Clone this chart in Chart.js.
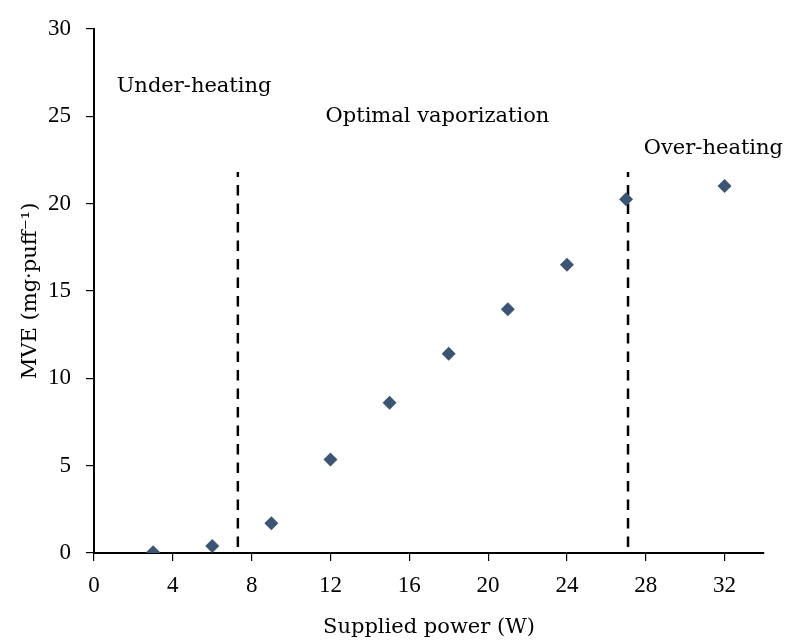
<!DOCTYPE html>
<html>
<head>
<meta charset="utf-8">
<script src="https://cdn.jsdelivr.net/npm/chart.js@4/dist/chart.umd.min.js"></script>
<style>
  body { margin: 0; background: #fff; }
  canvas { display: block; background: #fff; }
</style>
</head>
<body>
<canvas id="mveChart" width="787" height="643"></canvas>
<script>
// supplied power (W) and measured MVE (mg/puff)
const powerW = [3, 6, 9, 12, 15, 18, 21, 24, 27, 32];
const mveValues = [0.05, 0.4, 1.7, 5.35, 8.6, 11.4, 13.95, 16.5, 20.25, 21.0];

// regime boundaries (W) and how high the dashed lines reach
const boundaries = [7.3, 27.1];
const boundaryTop = 21.8;

const regionLabels = ['Under-heating', 'Optimal vaporization', 'Over-heating'];

const textFont = '"DejaVu Serif", serif';
const tickFont = '"Liberation Serif", serif';

/**
 * Writes the regime names inside the plot, anchored in data units.
 */
const regionText = {
    id: 'regionText',
    afterDatasetsDraw(chart, args, opts) {
        const ctx = chart.ctx;
        const xs = chart.scales.x;
        const ys = chart.scales.y;
        ctx.save();
        ctx.font = '21px ' + textFont;
        ctx.fillStyle = '#000';
        ctx.textAlign = 'left';
        ctx.textBaseline = 'middle';
        regionLabels.forEach((label, i) => {
            const at = opts.anchors[i];
            ctx.fillText(label, xs.getPixelForValue(at[0]), ys.getPixelForValue(at[1]));
        });
        ctx.restore();
    }
};

const points = powerW.map((p, i) => ({x: p, y: mveValues[i]}));

const boundarySets = boundaries.map(b => ({
    type: 'scatter',
    showLine: true,
    data: [{x: b, y: 0}, {x: b, y: boundaryTop}],
    borderColor: '#000',
    borderWidth: 2.5,
    borderDash: [10.5, 8],
    borderDashOffset: 12.5,
    pointRadius: 0,
    order: 2
}));

new Chart(document.getElementById('mveChart'), {
    type: 'scatter',
    data: {
        datasets: [
            {
                label: 'MVE',
                data: points,
                pointStyle: 'rectRot',
                pointRadius: 7,
                backgroundColor: '#3d5574',
                borderColor: '#3d5574',
                borderWidth: 0,
                order: 1
            },
            ...boundarySets
        ]
    },
    options: {
        responsive: false,
        animation: false,
        layout: {padding: {left: 0, right: 23, top: 24, bottom: 0}},
        plugins: {
            legend: {display: false},
            tooltip: {enabled: false},
            regionText: {anchors: [[1.15, 26.7], [11.75, 24.95], [27.9, 23.15]]}
        },
        scales: {
            x: {
                type: 'linear',
                min: 0,
                max: 34,
                afterFit: s => { s.height = 90; },
                border: {color: '#000', width: 2},
                grid: {drawOnChartArea: false, tickLength: 8, color: '#000', lineWidth: 1.2},
                ticks: {
                    stepSize: 4,
                    includeBounds: false,
                    padding: 11,
                    color: '#000',
                    font: {family: tickFont, size: 23}
                },
                title: {
                    display: true,
                    text: 'Supplied power (W)',
                    color: '#000',
                    font: {family: textFont, size: 21},
                    padding: {top: 0, bottom: 3}
                }
            },
            y: {
                min: 0,
                max: 30,
                afterFit: s => { s.width = 94; },
                border: {color: '#000', width: 2},
                grid: {drawOnChartArea: false, tickLength: 8, color: '#000', lineWidth: 1.2},
                ticks: {
                    stepSize: 5,
                    padding: 15,
                    color: '#000',
                    font: {family: tickFont, size: 23}
                },
                title: {
                    display: true,
                    text: 'MVE (mg·puff⁻¹)',
                    color: '#000',
                    font: {family: textFont, size: 21},
                    padding: {top: 18, bottom: 0}
                }
            }
        }
    },
    plugins: [regionText]
});
</script>
</body>
</html>
